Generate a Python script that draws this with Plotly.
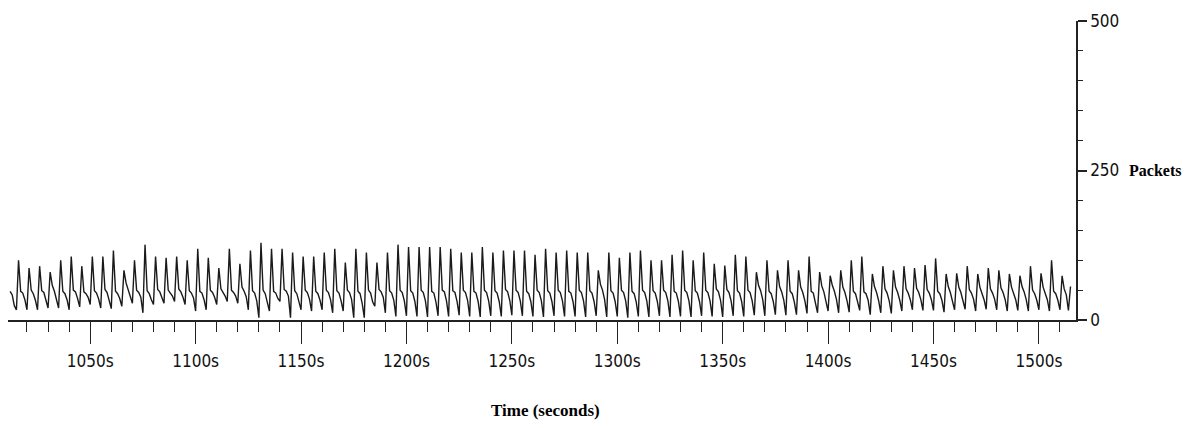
import plotly.graph_objects as go

# Sampling: one value per second from 1012 s to 1515 s
start_time = 1012

# Packet counts.
# First four samples, then one row per ~5 s cycle (peak, shoulder, shoulder, decline, trough).
lead_in = [48, 42, 24, 17]
cycles = [
    [100, 48, 45, 34, 17], [87, 50, 44, 33, 17], [90, 49, 46, 35, 20], [80, 58, 48, 36, 20],
    [100, 48, 44, 34, 17], [106, 50, 47, 36, 22], [90, 47, 44, 38, 26], [106, 49, 45, 35, 20],
    [106, 51, 46, 34, 19], [116, 48, 44, 36, 23], [83, 62, 50, 40, 28], [100, 50, 46, 38, 12],
    [126, 49, 44, 34, 26], [106, 51, 47, 38, 28], [104, 50, 45, 40, 31], [106, 52, 47, 38, 26],
    [100, 49, 45, 37, 15], [119, 48, 45, 34, 17], [104, 50, 46, 38, 26], [87, 52, 47, 40, 31],
    [119, 50, 46, 40, 28], [94, 55, 48, 39, 17], [116, 49, 45, 32, 4], [129, 50, 44, 30, 15],
    [119, 48, 45, 36, 31], [119, 51, 48, 40, 4], [113, 49, 44, 28, 17], [106, 50, 46, 35, 15],
    [106, 48, 44, 33, 17], [113, 50, 46, 34, 12], [119, 49, 45, 32, 15], [96, 50, 46, 34, 4],
    [119, 48, 44, 28, 4], [113, 50, 45, 30, 23], [96, 51, 47, 38, 12], [113, 49, 45, 33, 6],
    [126, 50, 46, 32, 7], [122, 49, 45, 31, 6], [122, 50, 46, 32, 5], [122, 48, 45, 30, 7],
    [122, 50, 47, 32, 6], [119, 49, 46, 31, 8], [113, 50, 46, 33, 6], [113, 48, 45, 31, 5],
    [122, 50, 46, 32, 7], [113, 49, 45, 31, 6], [116, 51, 47, 33, 8], [116, 50, 46, 32, 7],
    [116, 48, 44, 31, 6], [109, 50, 46, 32, 5], [119, 49, 45, 31, 7], [113, 50, 46, 32, 6],
    [116, 48, 45, 31, 6], [113, 50, 46, 32, 5], [113, 49, 45, 31, 7], [83, 60, 50, 34, 5],
    [113, 49, 45, 31, 6], [104, 50, 46, 32, 4], [113, 48, 44, 30, 6], [116, 50, 46, 32, 5],
    [100, 49, 45, 31, 7], [100, 50, 46, 32, 5], [109, 48, 45, 31, 6], [116, 50, 46, 32, 5],
    [100, 49, 45, 31, 7], [113, 50, 46, 32, 6], [94, 52, 47, 33, 5], [91, 51, 46, 32, 7],
    [109, 49, 45, 31, 6], [106, 50, 46, 32, 8], [80, 58, 49, 34, 7], [100, 48, 44, 31, 9],
    [83, 56, 47, 33, 8], [100, 48, 44, 30, 9], [83, 55, 46, 32, 11], [106, 48, 45, 31, 12],
    [80, 57, 47, 33, 15], [74, 58, 48, 34, 12], [83, 55, 46, 32, 13], [100, 48, 44, 32, 16],
    [106, 47, 44, 33, 9], [77, 56, 46, 32, 12], [90, 52, 45, 32, 11], [83, 55, 46, 33, 15],
    [90, 52, 45, 34, 17], [87, 53, 46, 34, 16], [92, 51, 45, 34, 16], [103, 48, 44, 33, 13],
    [77, 56, 46, 32, 17], [78, 55, 46, 34, 18], [90, 51, 45, 35, 15], [77, 55, 46, 34, 18],
    [87, 52, 45, 35, 17], [83, 54, 46, 34, 15], [77, 55, 46, 34, 16], [74, 56, 47, 34, 15],
    [90, 50, 44, 33, 17], [78, 55, 46, 34, 15], [100, 48, 44, 33, 17], [74, 52, 42, 16, 56],
]

x_tick_step = 50
y_tick_values = [0, 250, 500]
x_title = "Time (seconds)"
y_title = "Packets"

packets = list(lead_in)
for row in cycles:
    packets.extend(row)
times = list(range(start_time, start_time + len(packets)))

FONT_TICK = "Liberation Sans Narrow, DejaVu Sans Condensed, Roboto Condensed, Arial Narrow, sans-serif"
FONT_TITLE = "Liberation Serif, Times New Roman, serif"

fig = go.Figure()
fig.add_trace(go.Scatter(
    x=times, y=packets, mode="lines",
    line=dict(color="#1a1a1a", width=1.4),
    hoverinfo="skip", showlegend=False,
))

fig.update_layout(
    width=1200, height=428,
    margin=dict(l=0, r=132, t=12.5, b=115.5, autoexpand=False),
    paper_bgcolor="white", plot_bgcolor="white",
    xaxis=dict(
        range=[1011, 1517.6], showgrid=False, zeroline=False,
        showline=True, linecolor="#222", linewidth=1.5,
        ticks="outside", ticklen=22, tickwidth=1, tickcolor="#222",
        tick0=1050, dtick=x_tick_step, ticksuffix="s", tickformat="d",
        ticklabelstandoff=3,
        tickfont=dict(family=FONT_TICK, size=17, color="#111"),
        minor=dict(dtick=10, tick0=1050, ticks="outside", ticklen=10, tickwidth=1, tickcolor="#222"),
    ),
    yaxis=dict(
        range=[0, 500], side="right", showgrid=False, zeroline=False,
        showline=True, linecolor="#222", linewidth=1.5,
        ticks="outside", ticklen=9, tickwidth=1.5, tickcolor="#222",
        tickmode="array", tickvals=y_tick_values,
        tickfont=dict(family=FONT_TICK, size=17, color="#111"),
        minor=dict(dtick=50, ticks="outside", ticklen=5, tickwidth=1, tickcolor="#222"),
    ),
)

fig.add_annotation(
    text=x_title, xref="paper", yref="paper",
    x=(545 - 8) / 1068, y=-90.5 / 300, xanchor="center", yanchor="middle",
    showarrow=False, font=dict(family=FONT_TITLE, size=17, color="#000", weight="bold"),
)
fig.add_annotation(
    text=y_title, xref="paper", yref="y",
    x=(1127 - 8) / 1068, y=250, xanchor="left", yanchor="middle",
    showarrow=False, font=dict(family=FONT_TITLE, size=16, color="#000", weight="bold"),
)

fig.write_html("out.html")
